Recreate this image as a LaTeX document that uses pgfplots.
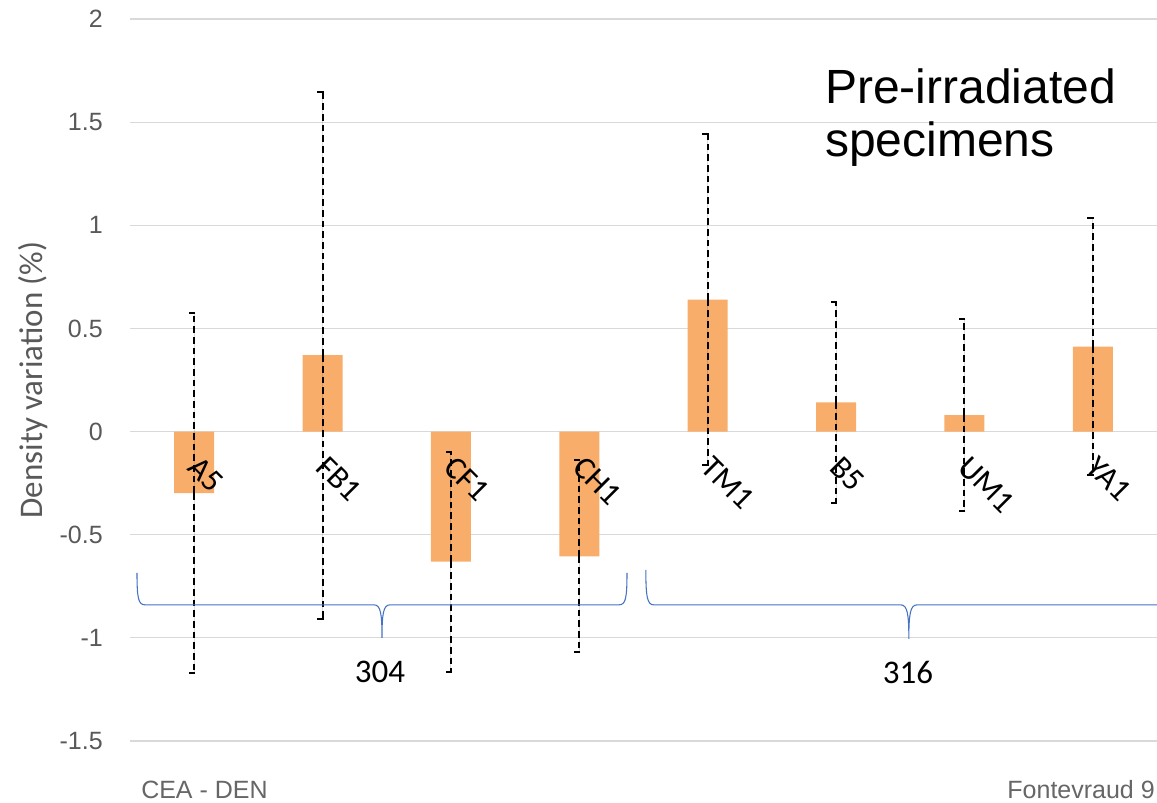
\documentclass[border=0pt]{standalone}
\usepackage{fontspec}
\setmainfont{Liberation Sans}
\newfontfamily\calibri{Carlito}
\usepackage{pgfplots}
\usepackage{pgfplotstable}
\pgfplotsset{compat=1.18}
\definecolor{barorange}{RGB}{248,173,107}
\definecolor{gridgray}{RGB}{217,217,217}
\definecolor{tickgray}{RGB}{89,89,89}
\definecolor{footgray}{RGB}{102,102,102}
\definecolor{braceblue}{RGB}{68,114,196}
\pgfdeclareplotmark{lcap}{%
  \pgfpathmoveto{\pgfqpoint{0.75pt}{0pt}}%
  \pgfpathlineto{\pgfqpoint{-\pgfplotmarksize}{0pt}}%
  \pgfusepathqstroke}
\pgfplotstableread{
x y err hi lo
0 -0.298 0.873 0.575 -1.171
1 0.370 1.278 1.648 -0.908
2 -0.631 0.534 -0.097 -1.165
3 -0.605 0.465 -0.140 -1.070
4 0.640 0.802 1.442 -0.162
5 0.141 0.489 0.630 -0.348
6 0.080 0.464 0.544 -0.384
7 0.412 0.622 1.034 -0.210
}\datatable
\begin{document}
\begin{tikzpicture}
\useasboundingbox (-97.5pt,-46.5pt) rectangle (770.25pt,555.75pt);
\begin{axis}[
  at={(0pt,0pt)}, anchor=south west,
  scale only axis,
  width=770.25pt, height=541.5pt,
  xmin=-0.5, xmax=7.5,
  ymin=-1.5, ymax=2,
  ytick={-1.5,-1,-0.5,0,0.5,1,1.5,2},
  yticklabels={-1.5,-1,-0.5,0,0.5,1,1.5,2},
  xtick=\empty,
  axis line style={draw=none},
  major tick length=0pt,
  tick style={draw=none},
  ymajorgrids,
  grid style={gridgray, line width=0.9pt},
  yticklabel style={font=\fontsize{18.75}{20}\selectfont, text=tickgray, anchor=east, inner sep=0pt, xshift=-20.25pt},
  ylabel={Density variation (\%)},
  ylabel style={font=\calibri\fontsize{24.75}{26}\selectfont, text=tickgray, at={(axis description cs:-0.0945,0.5)}, anchor=center, rotate=0},
  clip=false,
]
\addplot[ybar, bar width=30pt, fill=barorange, draw=none,
  error bars/.cd, y dir=both, y explicit,
  error bar style={black, line width=1.5pt, dash pattern=on 5pt off 3pt},
  error mark=none]
  table[x=x, y=y, y error=err] {\datatable};
\addplot[only marks, mark=lcap, mark size=4pt, mark options={solid, black, line width=1.5pt}]
  table[x=x, y=hi] {\datatable};
\addplot[only marks, mark=lcap, mark size=4pt, mark options={solid, black, line width=1.5pt}]
  table[x=x, y=lo] {\datatable};
\addplot[draw=none, mark=none, nodes near coords, point meta=explicit symbolic,
  nodes near coords style={font=\calibri\fontsize{24}{26}\selectfont, text=black, inner sep=0pt, xshift=5pt, yshift=-17pt, rotate=-45, anchor=north west}]
  coordinates {(0,0) [A5] (1,0) [FB1] (2,0) [CF1] (3,0) [CH1] (4,0) [TM1] (5,0) [B5] (6,0) [UM1] (7,0) [YA1]};
\coordinate (t1) at (axis cs:1.463,-1.0);
\coordinate (t2) at (axis cs:5.567,-1.005);
\end{axis}
% braces
\draw[braceblue, line width=0.8pt] (t1)
  ++(-183.75pt,48.75pt) .. controls +(0pt,-19pt) and +(-5pt,0pt) .. ++(6pt,-24pt)
  -- ++(171.75pt,0pt) .. controls +(5pt,0pt) and +(0pt,18pt) .. ++(6pt,-24.75pt)
  .. controls +(0pt,18pt) and +(-5pt,0pt) .. ++(6pt,24.75pt)
  -- ++(171.75pt,0pt) .. controls +(5pt,0pt) and +(0pt,-19pt) .. ++(6pt,24pt);
\draw[braceblue, line width=0.8pt] (t2)
  ++(-197.25pt,51.75pt) .. controls +(0pt,-20pt) and +(-5pt,0pt) .. ++(6pt,-26.25pt)
  -- ++(185.25pt,0pt) .. controls +(5pt,0pt) and +(0pt,18pt) .. ++(6pt,-25.5pt)
  .. controls +(0pt,18pt) and +(-5pt,0pt) .. ++(6pt,25.5pt)
  -- ++(185.25pt,0pt) .. controls +(5pt,0pt) and +(0pt,-20pt) .. ++(6pt,26.25pt);
% group labels
\node[font=\calibri\fontsize{24.75}{26}\selectfont] at (187.5pt,51.75pt) {304};
\node[font=\calibri\fontsize{24.75}{26}\selectfont] at (583.5pt,51.75pt) {316};
% title
\node[font=\fontsize{36}{40}\selectfont, anchor=base west, inner sep=0pt] at (521.25pt,477.75pt) {Pre-irradiated};
\node[font=\fontsize{36}{40}\selectfont, anchor=base west, inner sep=0pt] at (521.25pt,438pt) {specimens};
% footer
\node[font=\fontsize{18.75}{20}\selectfont, text=footgray, anchor=base west, inner sep=0pt] at (8.25pt,-43.5pt) {CEA - DEN};
\node[font=\fontsize{18.75}{20}\selectfont, text=footgray, anchor=base east, inner sep=0pt] at (768.75pt,-43.5pt) {Fontevraud 9};
\end{tikzpicture}
\end{document}
